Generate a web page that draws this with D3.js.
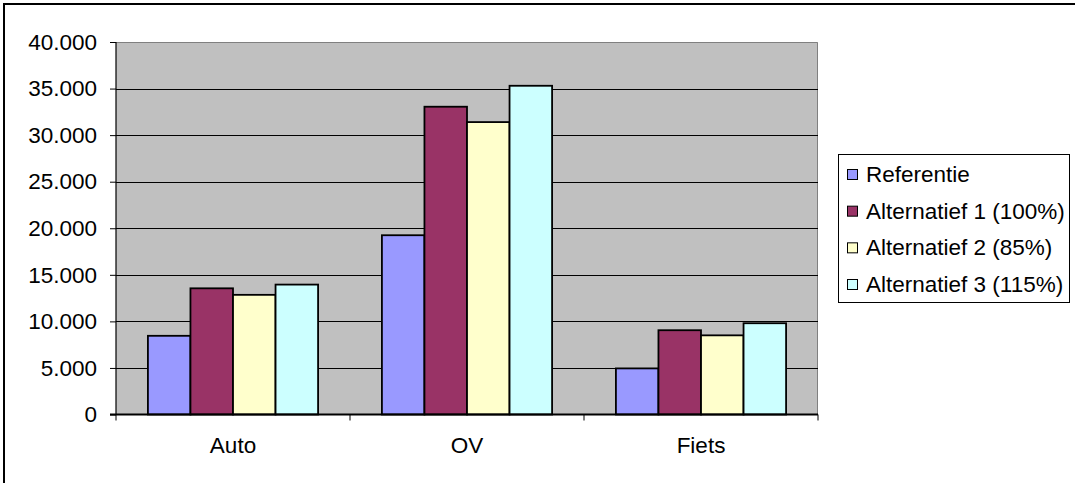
<!DOCTYPE html>
<html>
<head>
<meta charset="utf-8">
<script src="https://cdn.jsdelivr.net/npm/d3@7"></script>
<style>
  html, body { margin: 0; padding: 0; background: #fff; }
  svg { display: block; }
  text { font-family: "Liberation Sans", Arial, sans-serif; fill: #000; }
</style>
</head>
<body>
<svg id="chart" width="1075" height="483"></svg>
<script>
// Trips per mode of transport, per scenario
const categories = ["Auto", "OV", "Fiets"];
const seriesNames = ["Referentie", "Alternatief 1 (100%)", "Alternatief 2 (85%)", "Alternatief 3 (115%)"];
const referentie   = [8450, 19250, 4950];
const alternatief1 = [13550, 33050, 9050];
const alternatief2 = [12850, 31400, 8500];
const alternatief3 = [13950, 35300, 9800];
const yTicks = [0, 5000, 10000, 15000, 20000, 25000, 30000, 35000, 40000];
const seriesColors = ["#9999FF", "#993366", "#FFFFCC", "#CCFFFF"];

const seriesValues = [referentie, alternatief1, alternatief2, alternatief3];

const svg = d3.select("#chart");
const plot = { left: 116, right: 818, top: 42, bottom: 414.5 };

const nl = d3.formatLocale({ decimal: ",", thousands: ".", grouping: [3], currency: ["€", ""] });
const fmt = nl.format(",d");

// Outer chart frame (runs off the right and bottom edges)
svg.append("rect")
  .attr("x", 4).attr("y", 4).attr("width", 1200).attr("height", 600)
  .attr("fill", "none").attr("stroke", "#000").attr("stroke-width", 2);

const x0 = d3.scaleBand().domain(categories).range([plot.left, plot.right]).padding(0);
// gap width 150%: 4 bars + 1.5 bar gap per category
const bandW = x0.bandwidth();
const barW = bandW / 5.5;
const groupOffset = barW * 0.75;
const x1 = d3.scaleBand().domain(d3.range(seriesNames.length))
  .range([groupOffset, groupOffset + barW * 4]).padding(0);

const y = d3.scaleLinear().domain([0, 40000]).range([plot.bottom, plot.top]);

// plot background
svg.append("rect")
  .attr("x", plot.left).attr("y", plot.top)
  .attr("width", plot.right - plot.left).attr("height", plot.bottom - plot.top)
  .attr("fill", "#C0C0C0");

// plot area border (top and right)
svg.append("path")
  .attr("d", `M${plot.left},${plot.top + 0.5}H${plot.right - 0.5}V${plot.bottom}`)
  .attr("fill", "none").attr("stroke", "#808080").attr("stroke-width", 1);

// gridlines
svg.append("g").selectAll("line")
  .data(yTicks.filter(t => t > 0 && t < 40000))
  .join("line")
  .attr("x1", plot.left).attr("x2", plot.right)
  .attr("y1", d => Math.round(y(d)) + 0.5).attr("y2", d => Math.round(y(d)) + 0.5)
  .attr("stroke", "#000").attr("stroke-width", 1);

// bars
const groups = svg.append("g").selectAll("g")
  .data(categories)
  .join("g")
  .attr("transform", d => `translate(${x0(d)},0)`);

groups.selectAll("rect")
  .data((c, ci) => seriesValues.map((vals, si) => ({ si, v: vals[ci] })))
  .join("rect")
  .attr("x", d => x1(d.si))
  .attr("width", x1.bandwidth())
  .attr("y", d => y(d.v))
  .attr("height", d => y(0) - y(d.v))
  .attr("fill", d => seriesColors[d.si])
  .attr("stroke", "#000").attr("stroke-width", 1.8);

const fontSize = 22.5;

// y axis
const yAxis = d3.axisLeft(y).tickValues(yTicks).tickFormat(d => fmt(d)).tickSize(6).tickPadding(13);
const gy = svg.append("g").attr("transform", `translate(${plot.left},0)`).call(yAxis);
gy.select(".domain").attr("stroke", "#000").attr("stroke-width", 1.2).attr("d", `M0,${plot.top}V${plot.bottom}`);
gy.selectAll(".tick line").attr("stroke", "#000");
gy.selectAll(".tick text").attr("font-size", fontSize).attr("font-family", "Liberation Sans, Arial, sans-serif").attr("fill", "#000");

// x axis
const xAxis = d3.axisBottom(x0).tickSize(0).tickPadding(23);
const gx = svg.append("g").attr("transform", `translate(0,${plot.bottom})`).call(xAxis);
gx.select(".domain").attr("stroke", "#000").attr("stroke-width", 2).attr("d", `M${plot.left - 6},0H${plot.right}`);
gx.selectAll(".tick text").attr("font-size", fontSize).attr("font-family", "Liberation Sans, Arial, sans-serif").attr("fill", "#000");
// category separators
gx.append("g").selectAll("line")
  .data([0, 1, 2, 3])
  .join("line")
  .attr("x1", i => plot.left + i * bandW).attr("x2", i => plot.left + i * bandW)
  .attr("y1", 0).attr("y2", 6)
  .attr("stroke", "#000");

// legend
const legend = svg.append("g");
legend.append("rect")
  .attr("x", 838.5).attr("y", 154.5).attr("width", 231).attr("height", 148)
  .attr("fill", "#fff").attr("stroke", "#000").attr("stroke-width", 1);
const rowY = d3.scalePoint().domain(d3.range(seriesNames.length)).range([174, 284]);
const items = legend.selectAll("g.item")
  .data(seriesNames)
  .join("g").attr("class", "item")
  .attr("transform", (d, i) => `translate(0,${rowY(i)})`);
items.append("rect")
  .attr("x", 847.5).attr("y", -4.5).attr("width", 10).attr("height", 10)
  .attr("fill", (d, i) => seriesColors[i]).attr("stroke", "#000").attr("stroke-width", 1);
items.append("text")
  .attr("x", 866).attr("y", 8)
  .attr("font-size", 22.5)
  .text(d => d);
</script>
</body>
</html>
